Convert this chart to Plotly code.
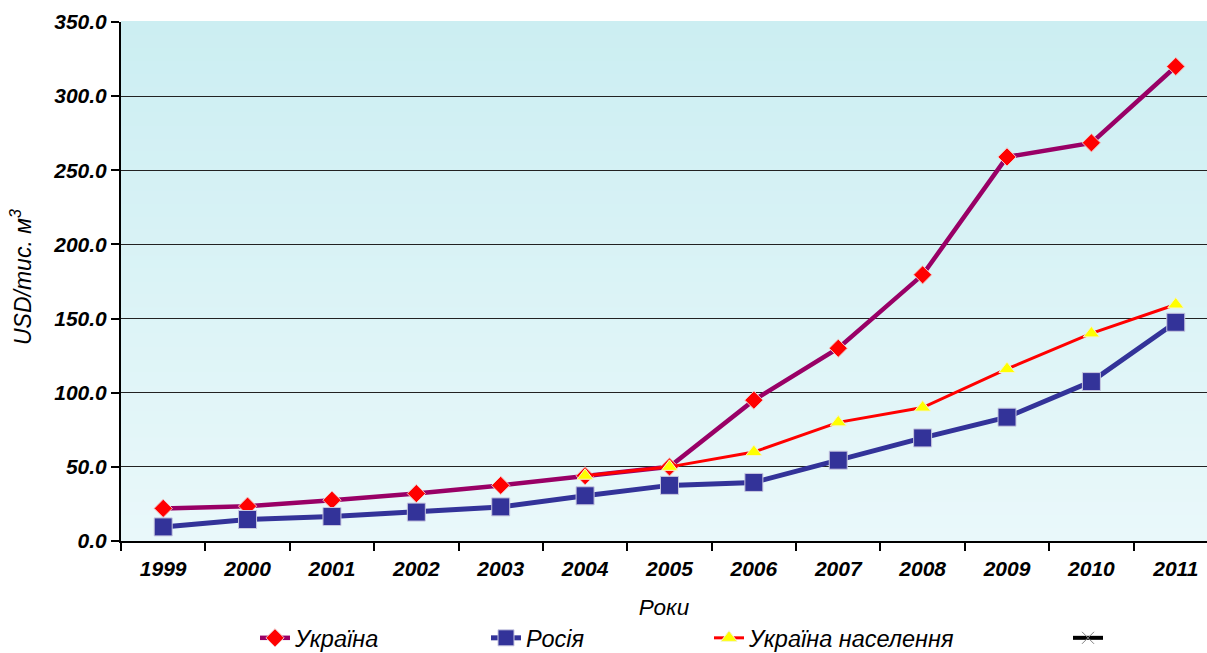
import plotly.graph_objects as go

years = ["1999", "2000", "2001", "2002", "2003", "2004", "2005",
         "2006", "2007", "2008", "2009", "2010", "2011"]
ukraine = [22, 23.5, 27.5, 32, 37.5, 44, 50, 95, 130, 179.5, 259, 268.5, 320]
russia = [9.5, 14.5, 16.5, 19.5, 23, 30.5, 37.5, 39.5, 54.5, 69.5, 83.5, 107.5, 147.5]
ukraine_pop = [None, None, None, None, None, 44, 50, 60, 80, 90, 116, 140, 159.5]
y_ticks = [0, 50, 100, 150, 200, 250, 300, 350]

FONT = "Arial, Liberation Sans, sans-serif"
PLOT_L, PLOT_W = 121, 1086
PLOT_T, PLOT_H = 22, 519

fig = go.Figure()

fig.add_trace(go.Scatter(
    x=years, y=ukraine, name="Україна", mode="lines+markers",
    line=dict(color="#990066", width=4.5),
    marker=dict(symbol="diamond", size=14, color="#ff0000",
                line=dict(color="#f0c8c8", width=1)),
    legend="legend"))
fig.add_trace(go.Scatter(
    x=years, y=russia, name="Росія", mode="lines+markers",
    line=dict(color="#333399", width=5),
    marker=dict(symbol="square", size=18, color="#333399",
                line=dict(color="#c8c8e0", width=1)),
    legend="legend2"))
fig.add_trace(go.Scatter(
    x=years, y=ukraine_pop, name="Україна населення", mode="lines+markers",
    line=dict(color="#ff0000", width=3),
    marker=dict(symbol="triangle-up", size=14, color="#ffff00",
                line=dict(color="#f5f5c8", width=1)),
    connectgaps=False, legend="legend3"))
fig.add_trace(go.Scatter(
    x=[None], y=[None], name=" ", mode="lines+markers",
    line=dict(color="#000000", width=4),
    marker=dict(symbol="x-thin", size=12, color="#000000",
                line=dict(color="#808080", width=1)),
    legend="legend4"))

# Vertical gradient behind the plot area, drawn as thin strips
n_strips = 40
top_rgb = (204, 238, 242)
bot_rgb = (233, 248, 250)
shapes = []
for i in range(n_strips):
    t = i / (n_strips - 1)
    c = tuple(round(bot_rgb[k] + (top_rgb[k] - bot_rgb[k]) * t) for k in range(3))
    shapes.append(dict(type="rect", xref="x domain", yref="y domain",
                       x0=0, x1=1, y0=i / n_strips, y1=(i + 1) / n_strips + 0.002,
                       fillcolor="rgb(%d,%d,%d)" % c, line=dict(width=0),
                       layer="below"))

legend_common = dict(orientation="h", yanchor="middle", xanchor="left",
                     y=-0.187, bgcolor="rgba(0,0,0,0)",
                     font=dict(family=FONT, size=23.5, color="#000000", style="italic"))


def legend_x(px):
    return (px - PLOT_L) / PLOT_W


fig.update_layout(
    width=1207, height=653,
    margin=dict(l=PLOT_L, r=0, t=PLOT_T, b=112, autoexpand=False),
    paper_bgcolor="#ffffff",
    plot_bgcolor="#e6f6f8",
    showlegend=True,
    shapes=shapes,
    legend=dict(x=legend_x(255), **legend_common),
    legend2=dict(x=legend_x(486), **legend_common),
    legend3=dict(x=legend_x(709), **legend_common),
    legend4=dict(x=legend_x(1068), **legend_common),
    annotations=[dict(
        text="USD/тис. м<sup>3</sup>", textangle=-90, showarrow=False,
        xref="paper", yref="paper", xanchor="center", yanchor="middle",
        x=(21 - PLOT_L) / PLOT_W, y=(PLOT_T + PLOT_H - 277) / PLOT_H,
        font=dict(family=FONT, size=23, color="#000000", style="italic"))],
    xaxis=dict(
        type="category", range=[-0.5, 12.37],
        tickson="boundaries", ticks="outside", ticklen=8, tickwidth=2,
        tickcolor="#000000", showline=True, linecolor="#000000", linewidth=2,
        showgrid=False, ticklabelstandoff=8,
        tickfont=dict(family=FONT, size=21, color="#000000",
                      weight="bold", style="italic"),
        title=dict(text="Роки", standoff=20,
                   font=dict(family=FONT, size=22.5, color="#000000", style="italic")),
    ),
    yaxis=dict(
        range=[0, 350], tickvals=y_ticks, tickformat=".1f",
        ticks="outside", ticklen=8, tickwidth=2, tickcolor="#000000",
        showline=True, linecolor="#000000", linewidth=2,
        showgrid=True, gridcolor="#222222", gridwidth=1, zeroline=False,
        tickfont=dict(family=FONT, size=21, color="#000000",
                      weight="bold", style="italic"),
    ),
)

fig.write_html("out.html")
